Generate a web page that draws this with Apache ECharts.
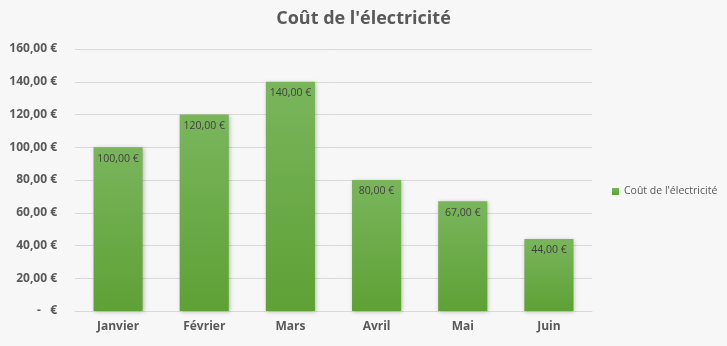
<!DOCTYPE html>
<html><head><meta charset="utf-8">
<script src="https://cdn.jsdelivr.net/npm/echarts@6/dist/echarts.min.js"></script>
<style>html,body{margin:0;padding:0;background:#f7f7f7}#c{width:727px;height:346px}</style>
</head><body><div id="c"></div>
<script>
const categories = ['Janvier','Février','Mars','Avril','Mai','Juin'];
const values = [100, 120, 140, 80, 67, 44];
const seriesName = "Coût de l'électricité";
const yTicks = [0, 20, 40, 60, 80, 100, 120, 140, 160];

function fmt(v){ return v === 0 ? '-   €' : v.toFixed(2).replace('.', ',') + ' €'; }
const font = "'Open Sans', 'Liberation Sans', sans-serif";
const chart = echarts.init(document.getElementById('c'));
chart.setOption({
  backgroundColor: '#f7f7f7',
  animation: false,
  title: { text: "Coût de l'électricité", left: 'center', top: 5,
    textStyle: { fontFamily: font, fontSize: 18, fontWeight: 'bold', color: '#595959' } },
  legend: { orient: 'vertical', left: 607, top: 181, itemWidth: 7, itemHeight: 7, itemGap: 4,
    icon: 'rect', textStyle: { fontFamily: font, fontSize: 10.5, color: '#595959' } },
  grid: { left: 75, right: 135, top: 49, bottom: 35, containLabel: false },
  xAxis: { type: 'category', data: categories,
    axisLine: { lineStyle: { color: '#d9d9d9' } }, axisTick: { show: false },
    axisLabel: { fontFamily: font, fontSize: 12, fontWeight: 'bold', color: '#595959', margin: 10 } },
  yAxis: { type: 'value', min: yTicks[0], max: yTicks[yTicks.length-1], interval: 20,
    axisLine: { show: false }, axisTick: { show: false },
    splitLine: { lineStyle: { color: '#d9d9d9' } },
    axisLabel: { formatter: fmt, fontFamily: font, fontSize: 12, fontWeight: 'bold', color: '#595959', margin: 18 } },
  series: [{
    name: seriesName, type: 'bar', data: values, barWidth: '57%',
    itemStyle: {
      color: new echarts.graphic.LinearGradient(0, 0, 0, 1, [
        { offset: 0, color: '#7ab55c' }, { offset: 1, color: '#5ea135' }]),
      shadowColor: 'rgba(0,0,0,0.25)', shadowBlur: 4, shadowOffsetX: 1, shadowOffsetY: 1
    },
    label: { show: true, position: 'insideTop', distance: 6, formatter: p => fmt(p.value),
      fontFamily: font, fontSize: 10.5, color: '#404040' }
  }]
});
</script></body></html>
